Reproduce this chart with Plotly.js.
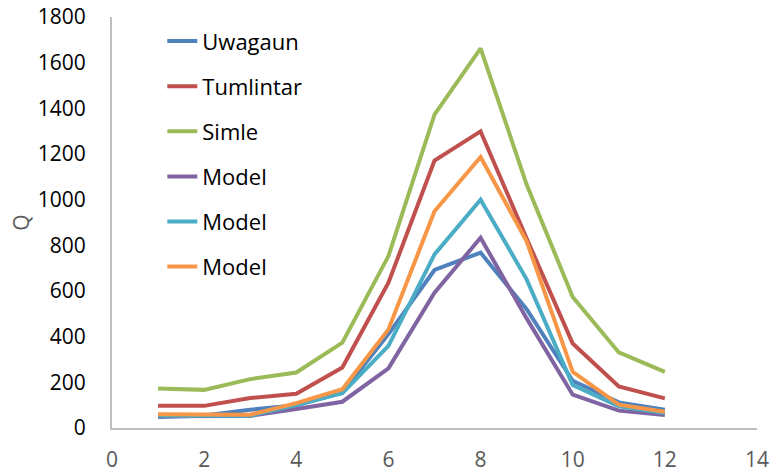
<!DOCTYPE html>
<html>
<head>
<meta charset="utf-8">
<script src="https://cdn.plot.ly/plotly-3.0.1.min.js"></script>
<style>html,body{margin:0;padding:0;background:#fff;}#chart{width:770px;height:472px;}</style>
</head>
<body>
<div id="chart"></div>
<script>
const months = [1, 2, 3, 4, 5, 6, 7, 8, 9, 10, 11, 12];
const seriesNames = ["Uwagaun", "Tumlintar", "Simle", "Model", "Model", "Model"];
const uwagaun   = [48, 55, 80, 100, 156, 411, 692, 768, 520, 207, 112, 80];
const tumlintar = [97, 97, 131, 150, 265, 636, 1171, 1299, 830, 370, 182, 130];
const simle     = [173, 167, 214, 243, 374, 753, 1372, 1663, 1066, 574, 331, 246];
const model1    = [51, 51, 53, 83, 115, 261, 593, 833, 480, 146, 76, 57];
const model2    = [54, 54, 54, 100, 152, 360, 760, 1000, 651, 188, 95, 66];
const model3    = [60, 60, 58, 109, 170, 432, 949, 1187, 818, 246, 102, 71];
const xTicks = [0, 2, 4, 6, 8, 10, 12, 14];
const yTicks = [0, 200, 400, 600, 800, 1000, 1200, 1400, 1600, 1800];

const colors = ["#4F81BD", "#C0504D", "#9BBB59", "#8064A2", "#4BACC6", "#F79646"];
const allY = [uwagaun, tumlintar, simle, model1, model2, model3];

const traces = allY.map((ys, i) => ({
  x: months, y: ys, type: "scatter", mode: "lines",
  name: seriesNames[i], legendgroup: "g" + i,
  line: {color: colors[i], width: 4}
}));

const font = "'Open Sans', 'Liberation Sans', sans-serif";
const layout = {
  width: 770, height: 472,
  margin: {l: 112, r: 13, t: 17, b: 44},
  paper_bgcolor: "#fff", plot_bgcolor: "#fff",
  font: {family: font, size: 21, color: "#000"},
  showlegend: true,
  legend: {x: 0.078, y: 0.992, xanchor: "left", yanchor: "top",
           bgcolor: "rgba(0,0,0,0)", tracegroupgap: 13.5,
           font: {family: font, size: 22, color: "#000"}},
  xaxis: {range: [0, 14], tickvals: xTicks, ticktext: xTicks.map(String),
          showgrid: false, zeroline: false, showline: true, linecolor: "#BFBFBF", linewidth: 2,
          ticks: "", ticklabelstandoff: 12,
          tickfont: {family: font, size: 21, color: "#595959"}, fixedrange: true},
  yaxis: {range: [0, 1800], tickvals: yTicks, ticktext: yTicks.map(String),
          showgrid: false, zeroline: false, showline: true, linecolor: "#BFBFBF", linewidth: 2,
          ticks: "", ticklabelstandoff: 20,
          tickfont: {family: font, size: 21, color: "#000"},
          title: {text: "Q", font: {family: font, size: 21, color: "#595959"}, standoff: 2}}
};
Plotly.newPlot("chart", traces, layout, {displayModeBar: false, staticPlot: true});
</script>
</body>
</html>
